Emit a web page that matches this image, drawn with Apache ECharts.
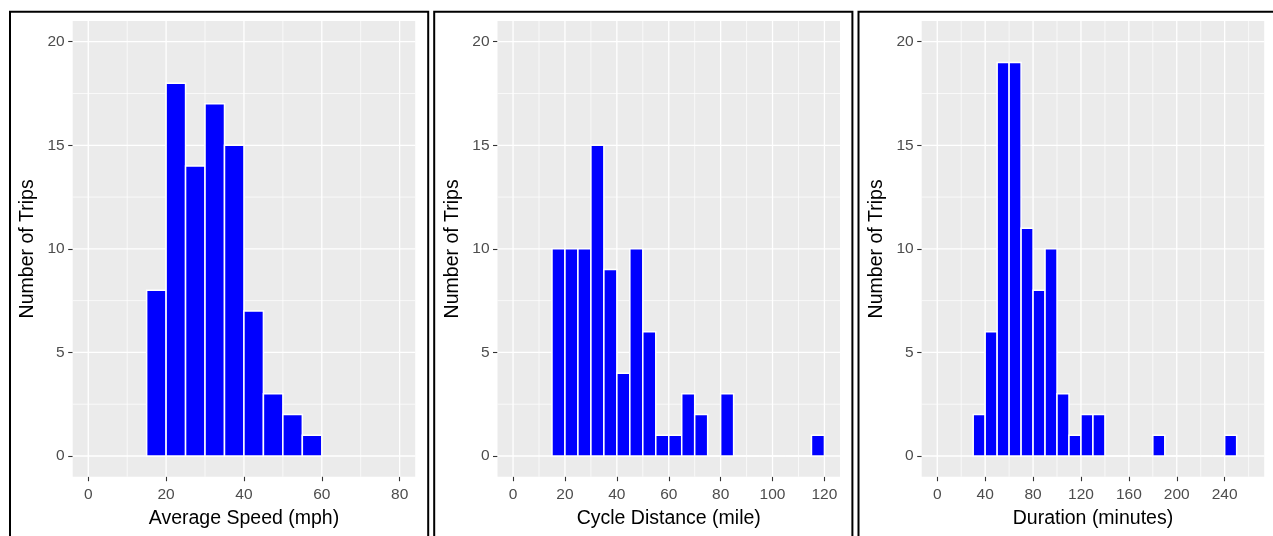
<!DOCTYPE html>
<html>
<head>
<meta charset="utf-8">
<script src="https://cdn.jsdelivr.net/npm/echarts@6/dist/echarts.min.js"></script>
<style>
  html, body { margin: 0; padding: 0; background: #fff; }
  #chart { width: 1273px; height: 536px; }
</style>
</head>
<body>
<div id="chart"></div>
<script>
// histogram bins (left edge of each bin) and counts
const speedBins = [15, 20, 25, 30, 35, 40, 45, 50, 55];
const speedCounts = [8, 18, 14, 17, 15, 7, 3, 2, 1];

const distanceBins = [15, 20, 25, 30, 35, 40, 45, 50, 55, 60, 65, 70, 75, 80, 85, 90, 95, 100, 105, 110, 115];
const distanceCounts = [10, 10, 10, 15, 9, 4, 10, 6, 1, 1, 3, 2, 0, 3, 0, 0, 0, 0, 0, 0, 1];

const durationBins = [30, 40, 50, 60, 70, 80, 90, 100, 110, 120, 130, 140, 150, 160, 170, 180, 190, 200, 210, 220, 230, 240];
const durationCounts = [2, 6, 19, 19, 11, 8, 10, 3, 1, 2, 2, 0, 0, 0, 0, 1, 0, 0, 0, 0, 0, 1];

// axis ticks
const countTicks = [0, 5, 10, 15, 20];
const countMinor = [2.5, 7.5, 12.5, 17.5];
const speedTicks = [0, 20, 40, 60, 80];
const speedMinor = [10, 30, 50, 70];
const distanceTicks = [0, 20, 40, 60, 80, 100, 120];
const distanceMinor = [10, 30, 50, 70, 90, 110];
const durationTicks = [0, 40, 80, 120, 160, 200, 240];
const durationMinor = [20, 60, 100, 140, 180, 220, 260];

const FONT = "'Liberation Sans', Arial, sans-serif";

const panels = [
  { title: "Average Speed (mph)", bins: speedBins, counts: speedCounts, width: 5,
    ticks: speedTicks, minor: speedMinor, min: -4, max: 84, left: 72.7, box: 7.5 },
  { title: "Cycle Distance (mile)", bins: distanceBins, counts: distanceCounts, width: 5,
    ticks: distanceTicks, minor: distanceMinor, min: -6, max: 126, left: 497.5, box: 431.7 },
  { title: "Duration (minutes)", bins: durationBins, counts: durationCounts, width: 10,
    ticks: durationTicks, minor: durationMinor, min: -13, max: 273, left: 921.7, box: 856 }
];

// white panel grid lines (kind: 0 x major, 1 x minor, 2 y major, 3 y minor)
function renderGridLine(params, api) {
  const cs = params.coordSys;
  const kind = api.value(2);
  const pt = api.coord([api.value(0), api.value(1)]);
  const shape = kind < 2
    ? { x1: pt[0], y1: cs.y, x2: pt[0], y2: cs.y + cs.height }
    : { x1: cs.x, y1: pt[1], x2: cs.x + cs.width, y2: pt[1] };
  return {
    type: "line",
    shape: shape,
    style: { stroke: "#ffffff", lineWidth: kind % 2 === 0 ? 1.3 : 0.7 }
  };
}

function renderBar(params, api) {
  const p0 = api.coord([api.value(0), 0]);
  const p1 = api.coord([api.value(1), api.value(2)]);
  return {
    type: "rect",
    shape: { x: p0[0], y: p1[1], width: p1[0] - p0[0], height: p0[1] - p1[1] },
    style: { fill: "#0000ff", stroke: "#ffffff", lineWidth: 1.5 }
  };
}

const grid = [];
const xAxis = [];
const yAxis = [];
const series = [];
const graphic = [];

panels.forEach((p, i) => {
  grid.push({
    left: p.left, top: 21, width: 342.5, height: 455.7,
    show: true, backgroundColor: "#ebebeb", borderWidth: 0
  });

  xAxis.push({
    type: "value", gridIndex: i, min: p.min, max: p.max,
    axisLine: { show: false, onZero: false },
    splitLine: { show: false },
    axisTick: { show: true, customValues: p.ticks, length: 4.5, lineStyle: { color: "#333333", width: 1.1 } },
    axisLabel: { customValues: p.ticks, color: "#4d4d4d", fontSize: 15.5, fontFamily: FONT, margin: 10 },
    name: p.title, nameLocation: "middle", nameGap: 32,
    nameTextStyle: { color: "#000000", fontSize: 19.5, fontFamily: FONT }
  });

  yAxis.push({
    type: "value", gridIndex: i, min: -1, max: 21,
    axisLine: { show: false, onZero: false },
    splitLine: { show: false },
    axisTick: { show: true, customValues: countTicks, length: 4.5, lineStyle: { color: "#333333", width: 1.1 } },
    axisLabel: { customValues: countTicks, color: "#4d4d4d", fontSize: 15.5, fontFamily: FONT, margin: 8 },
    name: "Number of Trips", nameLocation: "middle", nameGap: 35,
    nameTextStyle: { color: "#000000", fontSize: 19.5, fontFamily: FONT }
  });

  const lines = [];
  p.ticks.forEach(v => lines.push([v, 0, 0]));
  p.minor.forEach(v => lines.push([v, 0, 1]));
  countTicks.forEach(v => lines.push([0, v, 2]));
  countMinor.forEach(v => lines.push([0, v, 3]));

  series.push({
    type: "custom", xAxisIndex: i, yAxisIndex: i, z: 1, silent: true,
    renderItem: renderGridLine, data: lines
  });

  series.push({
    type: "custom", xAxisIndex: i, yAxisIndex: i, z: 2, silent: true,
    renderItem: renderBar,
    encode: { x: [0, 1], y: 2 },
    data: p.bins.map((b, k) => [b, b + p.width, p.counts[k]])
  });

  // outer frame of each sub-figure
  graphic.push({
    type: "rect", left: p.box, top: 9.3, silent: true,
    shape: { width: 418.2, height: 600 },
    style: { fill: "none", stroke: "#000000", lineWidth: 2 }
  });
});

const myChart = echarts.init(document.getElementById("chart"));
myChart.setOption({
  animation: false,
  grid: grid,
  xAxis: xAxis,
  yAxis: yAxis,
  series: series,
  graphic: graphic
});
</script>
</body>
</html>
